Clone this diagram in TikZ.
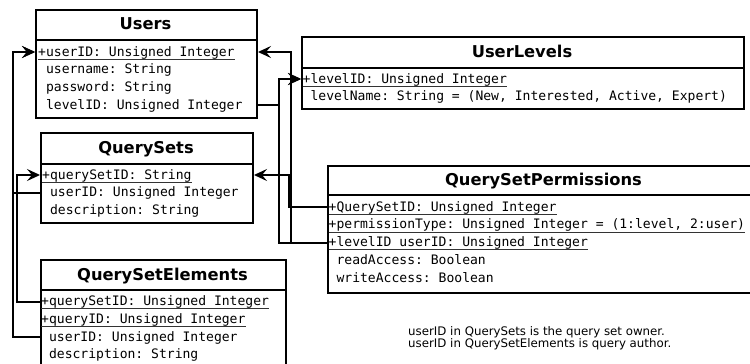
\documentclass[tikz,border=0pt]{standalone}
\usepackage{fontspec}
\setmainfont{DejaVu Sans}
\setmonofont{DejaVu Sans Mono}
\usetikzlibrary{arrows.meta}
\tikzset{
  box/.style={draw, line width=2pt, inner sep=0pt, anchor=north west},
  divider/.style={line width=2pt},
  title/.style={anchor=base, inner sep=0pt, font=\bfseries\fontsize{16.3}{19}\selectfont},
  row/.style={anchor=base west, inner sep=0pt, text height=11pt, text depth=3pt,
    font=\ttfamily\fontsize{13.05}{15}\selectfont},
  uline/.style={line width=1pt, black!80},
  link/.style={line width=2pt, line join=miter},
  arr/.style={link, -{Stealth[length=13pt, width=12pt, inset=5pt]}},
  note/.style={anchor=base west, inner sep=0pt, font=\fontsize{11.8}{13}\selectfont}
}
\newcommand\keyrow[3]{\node[row] (#1) at (#2) {#3};
  \draw[uline] ([yshift=-3.3pt]#1.base west) -- ([yshift=-3.3pt]#1.base east);}
\begin{document}
\begin{tikzpicture}[x=1pt,y=-1pt]
\useasboundingbox (0,0) rectangle (750,364);
\clip (0,0) rectangle (750,364);
% Users
\node[box, minimum width=221pt, minimum height=108pt] (users) at (35,9) {};
\draw[divider] ([yshift=-31pt]users.north west) -- ([yshift=-31pt]users.north east);
\node[title] (userst) at (145.5,30) {Users};
\keyrow{uuid}{38,56}{+userID: Unsigned Integer}
\node[row] (uname) at (38,73.8) {\phantom{+}username: String};
\node[row] (upass) at (38,91.6) {\phantom{+}password: String};
\node[row] (ulevel) at (38,109.4) {\phantom{+}levelID: Unsigned Integer};
% UserLevels
\node[box, minimum width=442pt, minimum height=72pt] (ul) at (301,36) {};
\draw[divider] ([yshift=-32pt]ul.north west) -- ([yshift=-32pt]ul.north east);
\node[title] (ult) at (522,57.5) {UserLevels};
\keyrow{ullid}{302.5,83}{+levelID: Unsigned Integer}
\node[row] (ulname) at (302.5,100.8) {\phantom{+}levelName: String = (New, Interested, Active, Expert)};
% QuerySets
\node[box, minimum width=212pt, minimum height=90pt] (qs) at (40,132) {};
\draw[divider] ([yshift=-31.5pt]qs.north west) -- ([yshift=-31.5pt]qs.north east);
\node[title] (qst) at (146,153) {QuerySets};
\keyrow{qsqsid}{42,179}{+querySetID: String}
\node[row] (qsuid) at (42,196.8) {\phantom{+}userID: Unsigned Integer};
\node[row] (qsdesc) at (42,214.6) {\phantom{+}description: String};
% QuerySetPermissions
\node[box, minimum width=433pt, minimum height=127pt] (qsp) at (327,165) {};
\draw[divider] ([yshift=-30pt]qsp.north west) -- ([yshift=-30pt]qsp.north east);
\node[title] (qspt) at (543.5,185.5) {QuerySetPermissions};
\keyrow{qspqs}{328.5,211}{+QuerySetID: Unsigned Integer}
\keyrow{qspptype}{328.5,228.8}{+permissionType: Unsigned Integer = (1:level, 2:user)}
\keyrow{qsplid}{328.5,246.6}{+levelID userID: Unsigned Integer}
\node[row] (qspread) at (328.5,264.4) {\phantom{+}readAccess: Boolean};
\node[row] (qspwrite) at (328.5,282.2) {\phantom{+}writeAccess: Boolean};
% QuerySetElements
\node[box, minimum width=245pt, minimum height=116pt] (qse) at (40,259) {};
\draw[divider] ([yshift=-31pt]qse.north west) -- ([yshift=-31pt]qse.north east);
\node[title] (qset) at (162.5,280) {QuerySetElements};
\keyrow{qseqs}{41,305.5}{+querySetID: Unsigned Integer}
\keyrow{qseqid}{41,323.3}{+queryID: Unsigned Integer}
\node[row] (qseuid) at (41,341.1) {\phantom{+}userID: Unsigned Integer};
\node[row] (qsedesc) at (41,358.9) {\phantom{+}description: String};
% note
\node[note] (note1) at (408,335.5) {userID in QuerySets is the query set owner.};
\node[note] (note2) at (408,347.3) {userID in QuerySetElements is query author.};
% bus coordinates
\coordinate (busA) at (13,0);
\coordinate (busB) at (17,0);
\coordinate (busC) at (279,0);
\coordinate (busD) at (291,0);
\coordinate (busE) at (288.5,0);
% connectors
\draw[arr] (qs.west |- qsuid) -| (busA |- uuid) -- (users.west |- uuid);
\draw[arr] (qse.west |- qseuid) -| (busA |- uuid) -- (users.west |- uuid);
\draw[arr] (qse.west |- qseqs) -| (busB |- qsqsid) -- (qs.west |- qsqsid);
\draw[arr] (users.east |- ulevel) -| (busC |- ullid) -- (ul.west |- ullid);
\draw[arr] (qsp.west |- qsplid) -| (busC |- ullid) -- (ul.west |- ullid);
\draw[arr] (qsp.west |- qsplid) -| (busD |- uuid) -- (users.east |- uuid);
\draw[arr] (qsp.west |- qspqs) -| (busE |- qsqsid) -- (qs.east |- qsqsid);
\end{tikzpicture}
\end{document}
